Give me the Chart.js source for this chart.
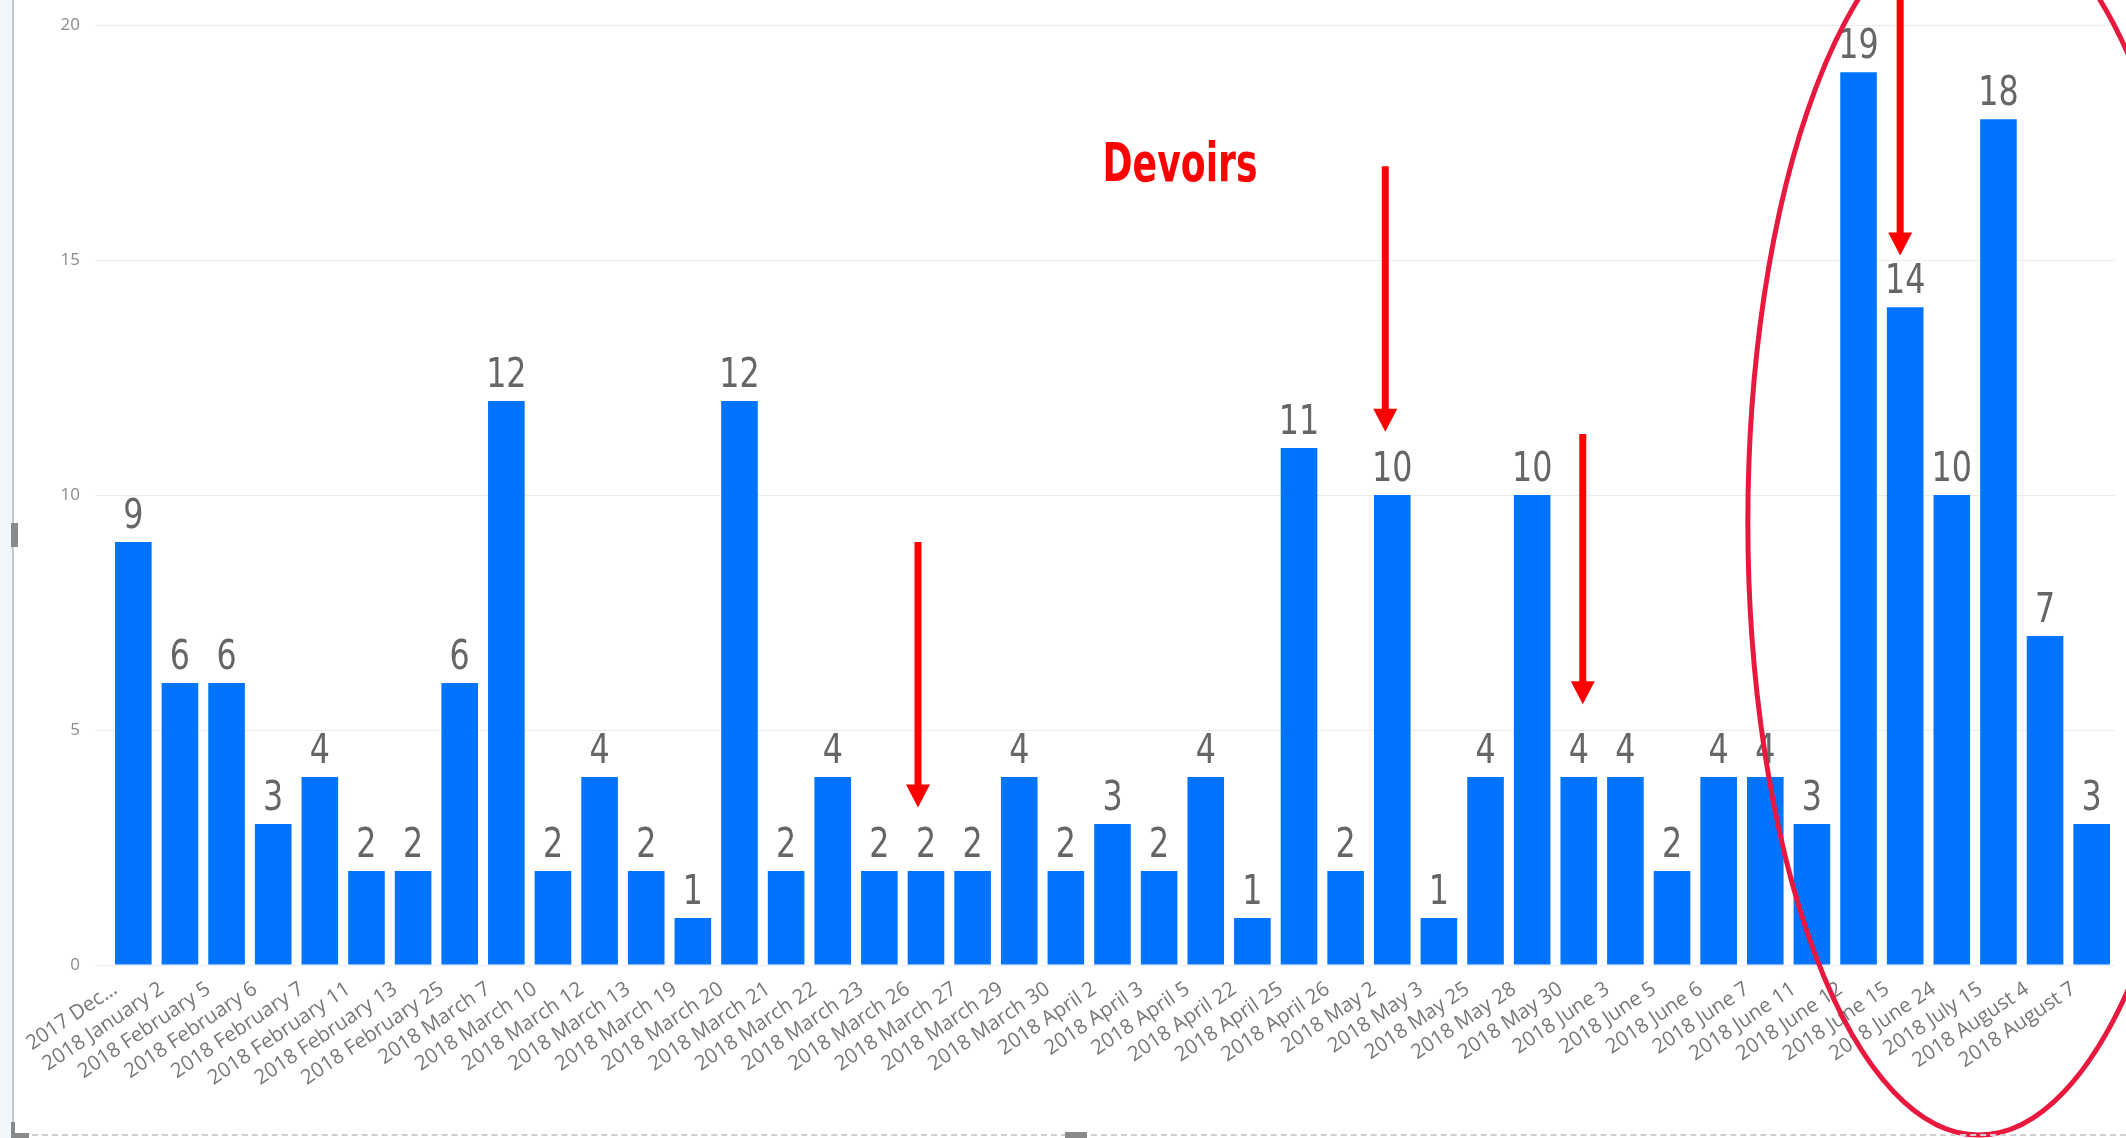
<!DOCTYPE html>
<html>
<head>
<meta charset="utf-8">
<script src="https://cdn.jsdelivr.net/npm/chart.js@4"></script>
<style>
  body { margin: 0; background: #fff; }
  #wrap { position: relative; width: 2126px; height: 1138px; overflow: hidden; }
  #chartBox { position: absolute; left: 0; top: 0; width: 2126px; height: 1138px; }
  #stripLeft { position: absolute; left: 0; top: 0; width: 12px; height: 1138px; background: #f2f7fb; }
  #lineLeft { position: absolute; left: 12px; top: 0; width: 2px; height: 1136px; background: #c8c8c8; }
  #lineBottom { position: absolute; left: 12px; top: 1134px; width: 2114px; border-top: 2px dashed #cfcfcf; }
  .handle { position: absolute; background: #8a8a8a; }
</style>
</head>
<body>
<div id="wrap">
  <div id="chartBox"><canvas id="visitesChart"></canvas></div>
  <div id="stripLeft"></div>
  <div id="lineLeft"></div>
  <div id="lineBottom"></div>
  <div class="handle" style="left:11px;top:523px;width:7px;height:24px;"></div>
  <div class="handle" style="left:1065px;top:1132px;width:22px;height:6px;"></div>
  <div class="handle" style="left:11px;top:1122px;width:4px;height:16px;"></div>
  <div class="handle" style="left:11px;top:1133px;width:18px;height:5px;"></div>
</div>

<script>

const categories = [
  "2017 Dec...", "2018 January 2", "2018 February 5", "2018 February 6",
  "2018 February 7", "2018 February 11", "2018 February 13", "2018 February 25",
  "2018 March 7", "2018 March 10", "2018 March 12", "2018 March 13",
  "2018 March 19", "2018 March 20", "2018 March 21", "2018 March 22",
  "2018 March 23", "2018 March 26", "2018 March 27", "2018 March 29",
  "2018 March 30", "2018 April 2", "2018 April 3", "2018 April 5",
  "2018 April 22", "2018 April 25", "2018 April 26", "2018 May 2",
  "2018 May 3", "2018 May 25", "2018 May 28", "2018 May 30",
  "2018 June 3", "2018 June 5", "2018 June 6", "2018 June 7",
  "2018 June 11", "2018 June 12", "2018 June 15", "2018 June 24",
  "2018 July 15", "2018 August 4", "2018 August 7"
];

const counts = [
  9, 6, 6, 3, 4, 2, 2, 6,
  12, 2, 4, 2, 1, 12, 2, 4,
  2, 2, 2, 4, 2, 3, 2, 4,
  1, 11, 2, 10, 1, 4, 10, 4,
  4, 2, 4, 4, 3, 19, 14, 10,
  18, 7, 3
];

const yTicks = [0, 5, 10, 15, 20];

// flèches rouges : catégorie visée, valeur de départ et valeur de la pointe
const arrows = [
  { index: 17, dx: -8, from: 9.0, to: 3.35 },
  { index: 27, dx: -7, from: 17.0, to: 11.35 },
  { index: 31, dx: 4, from: 11.3, to: 5.55 },
  { index: 38, dx: -5, from: 21.0, to: 15.1 }
];

const noteText = "Devoirs";

// chiffres au-dessus des barres
const valueLabels = {

  id: 'valueLabels',

  afterDatasetsDraw(chart){

    const ctx = chart.ctx;
    const meta = chart.getDatasetMeta(0);

    ctx.save();
    ctx.font = "41px 'DejaVu Sans Condensed', 'DejaVu Sans', sans-serif";
    ctx.fillStyle = '#666666';
    ctx.textAlign = 'center';
    ctx.textBaseline = 'alphabetic';

    meta.data.forEach((bar, i) => {
      ctx.save();
      ctx.translate(bar.x, bar.y - 14);
      ctx.scale(0.86, 1);
      ctx.fillText(String(counts[i]), 0, 0);
      ctx.restore();
    });

    ctx.restore();

  }

};

// flèches, texte et ellipse dessinés à la main
const annotations = {

  id: 'annotations',

  afterDraw(chart){

    const ctx = chart.ctx;
    const x = chart.scales.x;
    const y = chart.scales.y;

    ctx.save();

    arrows.forEach(a => {

      const px = x.getPixelForValue(a.index) + a.dx;
      const y0 = y.getPixelForValue(a.from);
      const y1 = y.getPixelForValue(a.to);

      ctx.strokeStyle = '#ff0000';
      ctx.lineWidth = 7;
      ctx.beginPath();
      ctx.moveTo(px, y0);
      ctx.lineTo(px, y1 - 20);
      ctx.stroke();

      ctx.fillStyle = '#ff0000';
      ctx.beginPath();
      ctx.moveTo(px - 12, y1 - 23);
      ctx.lineTo(px + 12, y1 - 23);
      ctx.lineTo(px, y1);
      ctx.closePath();
      ctx.fill();

    });

    ctx.save();
    ctx.font = "bold 53px 'DejaVu Sans Condensed', 'DejaVu Sans', sans-serif";
    ctx.fillStyle = '#ff0000';
    ctx.textAlign = 'center';
    ctx.textBaseline = 'alphabetic';
    ctx.translate(1180, 181);
    ctx.scale(0.76, 1);
    ctx.fillText(noteText, 0, 0);
    ctx.restore();

    const step = x.getPixelForValue(40) - x.getPixelForValue(39);
    const cx = x.getPixelForValue(39) + step * 0.58;

    ctx.strokeStyle = '#e8183f';
    ctx.lineWidth = 5;
    ctx.beginPath();
    ctx.ellipse(cx, 522, 231, 613, 0, 0, Math.PI * 2);
    ctx.stroke();

    ctx.restore();

  }

};

function loadChart(){

  const ctx = document.getElementById("visitesChart");

  new Chart(ctx, {

    type: 'bar',

    data: {

      labels: categories,

      datasets: [{
        data: counts,
        backgroundColor: '#0074ff',
        categoryPercentage: 1,
        barPercentage: 0.785
      }]

    },

    options: {

      responsive: true,
      maintainAspectRatio: false,
      animation: false,

      layout: {
        padding: { top: 23, right: 11, left: 0, bottom: 0 }
      },

      plugins: {
        legend: { display: false },
        tooltip: { enabled: false }
      },

      scales: {

        x: {
          grid: { display: false, drawTicks: false },
          border: { display: false },
          ticks: {
            autoSkip: false,
            minRotation: 34,
            maxRotation: 34,
            padding: 12,
            labelOffset: -18,
            color: '#777777',
            font: { family: "'Open Sans', sans-serif", size: 20.5 }
          },
          afterFit(scale){ scale.height = 173; }
        },

        y: {
          min: 0,
          max: 20,
          border: { display: false },
          grid: { color: '#ececec', tickLength: 15 },
          ticks: {
            padding: 15,
            color: '#8c8c8c',
            font: { family: "'Open Sans', sans-serif", size: 17 }
          },
          afterBuildTicks(scale){
            scale.ticks = yTicks.map(v => ({ value: v }));
          },
          afterFit(scale){ scale.width = 110; }
        }

      }

    },

    plugins: [valueLabels, annotations]

  });

}

loadChart();

</script>
</body>
</html>
